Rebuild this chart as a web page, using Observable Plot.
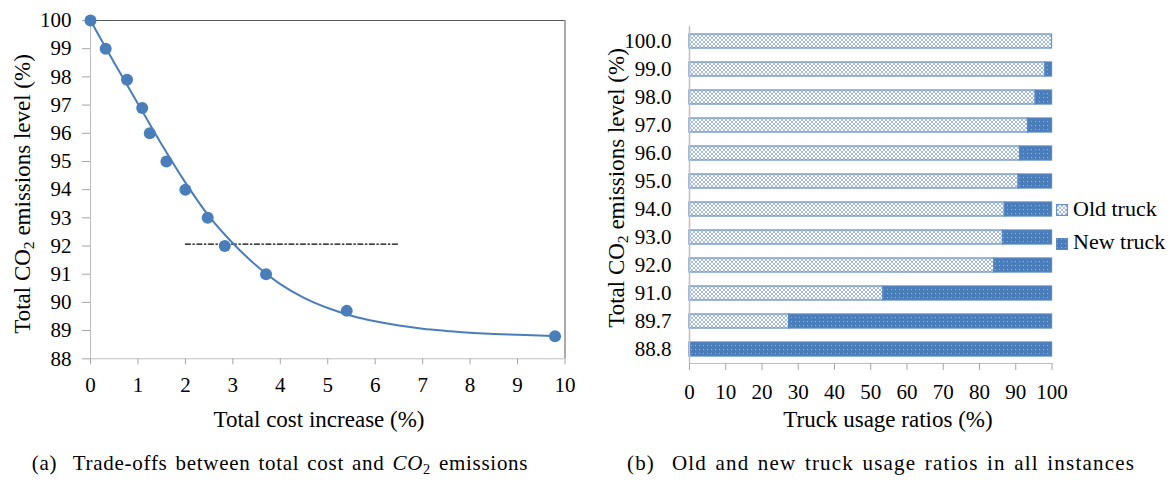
<!DOCTYPE html>
<html><head><meta charset="utf-8">
<style>
body{margin:0;background:#fff;font-family:'Liberation Serif',serif;}
#root{position:relative;width:1172px;height:480px;background:#fff;color:#000;overflow:hidden;font-family:'Liberation Serif',serif}
.abs{position:absolute;white-space:nowrap;line-height:1;font-family:'Liberation Serif',serif}
.ytitle{font-size:23px;transform:translate(-50%,-50%) rotate(-90deg)}
.xtitle{font-size:23px;transform:translateX(-50%)}
.cap{font-size:21px;transform:translateX(-50%);word-spacing:2px}
.leg{font-size:22px}
sub{font-size:0.68em;vertical-align:-0.3em;line-height:0}
svg{overflow:visible}
</style>
<script src="https://cdn.jsdelivr.net/npm/d3@7"></script>
<script src="https://cdn.jsdelivr.net/npm/@observablehq/plot@0.6"></script>
</head><body>
<div id="root">
  <div class="abs ytitle" style="left:22px;top:194px">Total CO<sub>2</sub> emissions level (%)</div>
  <div class="abs ytitle" style="left:616px;top:187.5px">Total CO<sub>2</sub> emissions level (%)</div>
  <div class="abs xtitle" style="left:319px;top:408px">Total cost increase (%)</div>
  <div class="abs xtitle" style="left:888px;top:408px">Truck usage ratios (%)</div>
  <div class="abs cap" style="left:280px;top:453px;letter-spacing:0.72px">(a)&nbsp; Trade-offs between total cost and <i>CO</i><sub>2</sub> emissions</div>
  <div class="abs cap" style="left:881px;top:453px;letter-spacing:1.2px">(b)&nbsp; Old and new truck usage ratios in all instances</div>
  <div class="abs" style="left:1056px;top:203px"><svg width="12" height="12"><rect x="0.6" y="0.6" width="10.8" height="10.8" fill="url(#oldPat)" stroke="#6a93cd" stroke-width="1.2"/></svg></div>
  <div class="abs" style="left:1056px;top:236.5px"><svg width="12" height="12"><rect x="0.6" y="0.6" width="10.8" height="10.8" fill="url(#newPat)" stroke="#5a89c5" stroke-width="1.2"/></svg></div>
  <div class="abs leg" id="leg0" style="left:1073px;top:197.6px">Old truck</div>
  <div class="abs leg" id="leg1" style="left:1073px;top:230.6px">New truck</div>
</div>
<script>
const FONT = "'Liberation Serif', serif";
// ---------- Panel (a) data ----------
const costIncrease = [0, 0.32, 0.77, 1.09, 1.25, 1.60, 2.00, 2.47, 2.83, 3.70, 5.40, 9.79];
const emissionLevel = [100, 99, 97.9, 96.9, 96, 95, 94, 93, 92, 91, 89.7, 88.8];
// smooth trend curve
const trendX = [0, 0.5, 1, 1.5, 2, 2.5, 3, 3.5, 4, 4.5, 5, 5.5, 6, 6.5, 7, 7.5, 8, 8.5, 9, 9.73];
const trendY = [100, 98.5, 97.05, 95.6, 94.25, 93.05, 92.1, 91.3, 90.65, 90.16, 89.8, 89.53, 89.33, 89.18, 89.07, 88.99, 88.92, 88.88, 88.85, 88.81];
// dash-dot reference line
const refX = [2.0, 6.5];
const refY = [92.07, 92.07];
const xTicksA = [0,1,2,3,4,5,6,7,8,9,10];
const yTicksA = [88,89,90,91,92,93,94,95,96,97,98,99,100];

// ---------- Panel (b) data ----------
const levels = ["100.0","99.0","98.0","97.0","96.0","95.0","94.0","93.0","92.0","91.0","89.7","88.8"];
const oldTruck = [100, 98.2, 95.5, 93.4, 91.2, 90.8, 87.0, 86.5, 84.1, 53.5, 27.5, 0];
const newTruck = [0, 1.8, 4.5, 6.6, 8.8, 9.2, 13.0, 13.5, 15.9, 46.5, 72.5, 100];
const seriesNames = ["Old truck", "New truck"];
const xTicksB = [0,10,20,30,40,50,60,70,80,90,100];

const BLUE = "#4a7ebb";
const root = document.getElementById("root");
document.getElementById("leg0").textContent = seriesNames[0];
document.getElementById("leg1").textContent = seriesNames[1];

// ---------- Panel (a) ----------
const pts = costIncrease.map((x, i) => ({x, y: emissionLevel[i]}));
const trend = trendX.map((x, i) => ({x, y: trendY[i]}));
const ref = refX.map((x, i) => ({x, y: refY[i]}));

const plotA = Plot.plot({
  width: 590, height: 440,
  marginLeft: 90, marginRight: 25.5, marginTop: 20, marginBottom: 81.7,
  x: {domain: [0, 10]},
  y: {domain: [88, 100]},
  style: {fontFamily: FONT, fontSize: "21px", color: "#000", background: "transparent"},
  marks: [
    Plot.ruleY([100], {stroke: "#595959", strokeWidth: 1}),
    Plot.ruleX([10], {stroke: "#595959", strokeWidth: 1}),
    Plot.ruleX([0], {stroke: "#bfbfbf", strokeWidth: 1}),
    Plot.ruleY([88], {stroke: "#bfbfbf", strokeWidth: 1}),
    Plot.axisX({ticks: xTicksA, tickSize: 6, tickPadding: 12, stroke: "#a6a6a6", fill: "#000", label: null, tickFormat: d => String(d), fontSize: 21}),
    Plot.axisY({ticks: yTicksA, tickSize: 8, tickPadding: 11, stroke: "#a6a6a6", fill: "#000", label: null, tickFormat: d => String(d), fontSize: 21}),
    Plot.line(ref, {x: "x", y: "y", stroke: "#000", strokeWidth: 1.3, strokeDasharray: "5,2.5,1.5,2.5"}),
    Plot.line(trend, {x: "x", y: "y", curve: "catmull-rom", stroke: BLUE, strokeWidth: 2}),
    Plot.dot(pts, {x: "x", y: "y", r: 6, fill: BLUE, stroke: "none"})
  ]
});
plotA.style.position = "absolute";
plotA.style.left = "0px";
plotA.style.top = "0px";
root.appendChild(plotA);

// ---------- Panel (b) ----------
const rows = [];
seriesNames.forEach((name, s) => {
  const vals = s === 0 ? oldTruck : newTruck;
  levels.forEach((lv, i) => {
    if (vals[i] > 0) rows.push({
      level: lv, type: name, value: vals[i],
      fill: s === 0 ? "url(#oldPat)" : "url(#newPat)",
      stroke: s === 0 ? "#6a93cd" : "#5a89c5"
    });
  });
});

const plotB = Plot.plot({
  width: 480, height: 440,
  marginLeft: 99, marginRight: 18.5, marginTop: 26, marginBottom: 77,
  x: {domain: [0, 100]},
  y: {domain: levels, paddingInner: 0.5, paddingOuter: 0.25},
  color: {type: "identity"},
  style: {fontFamily: FONT, fontSize: "21px", color: "#000", background: "transparent"},
  marks: [
    Plot.barX(rows, Plot.stackX({y: "level", x: "value", fill: "fill", stroke: "stroke", strokeWidth: 1.3, order: null})),
    Plot.ruleX([0], {stroke: "#bfbfbf", strokeWidth: 1.5}),
    Plot.frame({anchor: "bottom", stroke: "#bfbfbf", strokeWidth: 1}),
    Plot.axisX({ticks: xTicksB, tickSize: 7, tickPadding: 14, stroke: "#a6a6a6", fill: "#000", label: null, tickFormat: d => String(d), fontSize: 21}),
    Plot.axisY({tickSize: 0, tickPadding: 18, fill: "#000", label: null, fontSize: 21})
  ]
});
const ns = "http://www.w3.org/2000/svg";
const defs = document.createElementNS(ns, "defs");
defs.innerHTML = `
  <pattern id="oldPat" width="4" height="4" patternUnits="userSpaceOnUse">
    <rect width="4" height="4" fill="#ffffff"/>
    <path d="M0,0 L4,4 M4,0 L0,4" stroke="#9cb5dd" stroke-width="0.9"/>
  </pattern>
  <pattern id="newPat" width="4" height="4" patternUnits="userSpaceOnUse">
    <rect width="4" height="4" fill="${BLUE}"/>
    <rect x="1" y="1" width="1" height="1" fill="#93b2de"/>
  </pattern>`;
plotB.insertBefore(defs, plotB.firstChild);
plotB.style.position = "absolute";
plotB.style.left = "590px";
plotB.style.top = "0px";
root.appendChild(plotB);
document.querySelectorAll("svg text").forEach(t => t.setAttribute("font-family", "Liberation Serif, serif"));
</script>
</body></html>
